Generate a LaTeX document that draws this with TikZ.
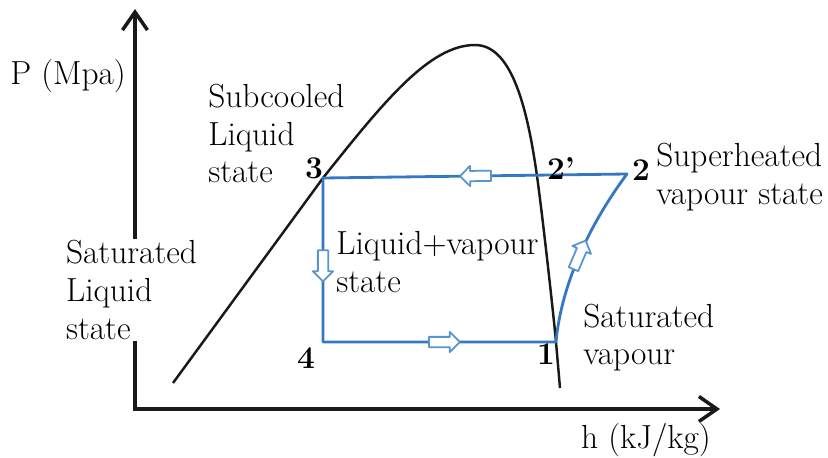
\documentclass[tikz,border=0pt]{standalone}
\usepackage{tikz}
\usetikzlibrary{arrows.meta,shapes.arrows,positioning}
\definecolor{cycleblue}{RGB}{52,120,196}
\definecolor{flowblue}{RGB}{88,148,208}

\begin{document}
\begin{tikzpicture}[>={Straight Barb[length=3.6mm,width=5mm]},
  every node/.style={font=\fontsize{19}{21.5}\selectfont},
  label text/.style={align=left, inner sep=0pt, anchor=west},
  state num/.style={font=\fontsize{18}{21}\selectfont\bfseries, inner sep=0pt},
  flow arrow/.style={single arrow, draw=flowblue, fill=white, line width=1pt,
    text height=1.7mm, text depth=0mm, text width=0mm, minimum height=6.2mm,
    single arrow head extend=1mm, inner sep=0pt, sloped, allow upside down}]
  \useasboundingbox (0,0) rectangle (16.56,9.14);

  % Axes
  \coordinate (O) at (2.70,0.96);
  \coordinate (ytop) at (2.70,8.96);
  \coordinate (xend) at (14.40,0.96);
  \draw[line width=2pt, black!90, <->] (ytop) -- (O) -- (xend);
  \node[label text] (pax) at (0.20,7.62) {P (Mpa)};
  \node (hax) at (12.92,0.34) {h (kJ/kg)};

  % State points
  \coordinate (p1) at (11.12,2.30);
  \coordinate (p2) at (12.54,5.66);
  \coordinate (p3) at (6.46,5.58);
  \coordinate (p4) at (6.46,2.30);
  \coordinate (p2s) at (10.74,5.62);
  \coordinate (peak) at (9.50,8.24);

  % Saturation dome
  \draw[line width=1.4pt, black!90] (3.46,1.48) -- (p3)
    .. controls (7.70,7.14) and (8.60,8.24) .. (peak)
    .. controls (10.20,8.24) and (10.53,7.11) .. (p2s)
    .. controls (10.85,4.83) and (11.07,2.85) .. (p1) -- (11.20,1.38);

  % Refrigeration cycle
  \draw[cycleblue, line width=1.6pt, line join=round, line cap=round]
    (p1) .. controls (11.22,3.40) and (11.75,4.60) .. (p2) node[flow arrow, pos=0.5] {}
    -- (p3) node[flow arrow, pos=0.49] {}
    -- (p4) node[flow arrow, pos=0.52] {}
    -- (p1) node[flow arrow, pos=0.51] {};

  % State numbers
  \node[state num] (n1) at (10.92,2.06) {1};
  \node[state num] (n2) at (12.82,5.74) {2};
  \node[state num] (n2p) at (11.22,5.76) {2'};
  \node[state num] (n3) at (6.28,5.78) {3};
  \node[state num] (n4) at (6.12,1.98) {4};

  % Region labels
  \node[label text] (subcool) at (4.16,6.47) {Subcooled\\Liquid\\state};
  \node[label text, fill=white, inner sep=1pt] (satliq) at (1.28,3.34) {Saturated\\Liquid\\state};
  \node[label text] (mix) at (6.72,3.90) {Liquid+vapour\\state};
  \node[label text] (superheat) at (13.12,5.60) {Superheated\\vapour state};
  \node[label text] (satvap) at (11.66,2.39) {Saturated\\vapour};
\end{tikzpicture}
\end{document}
